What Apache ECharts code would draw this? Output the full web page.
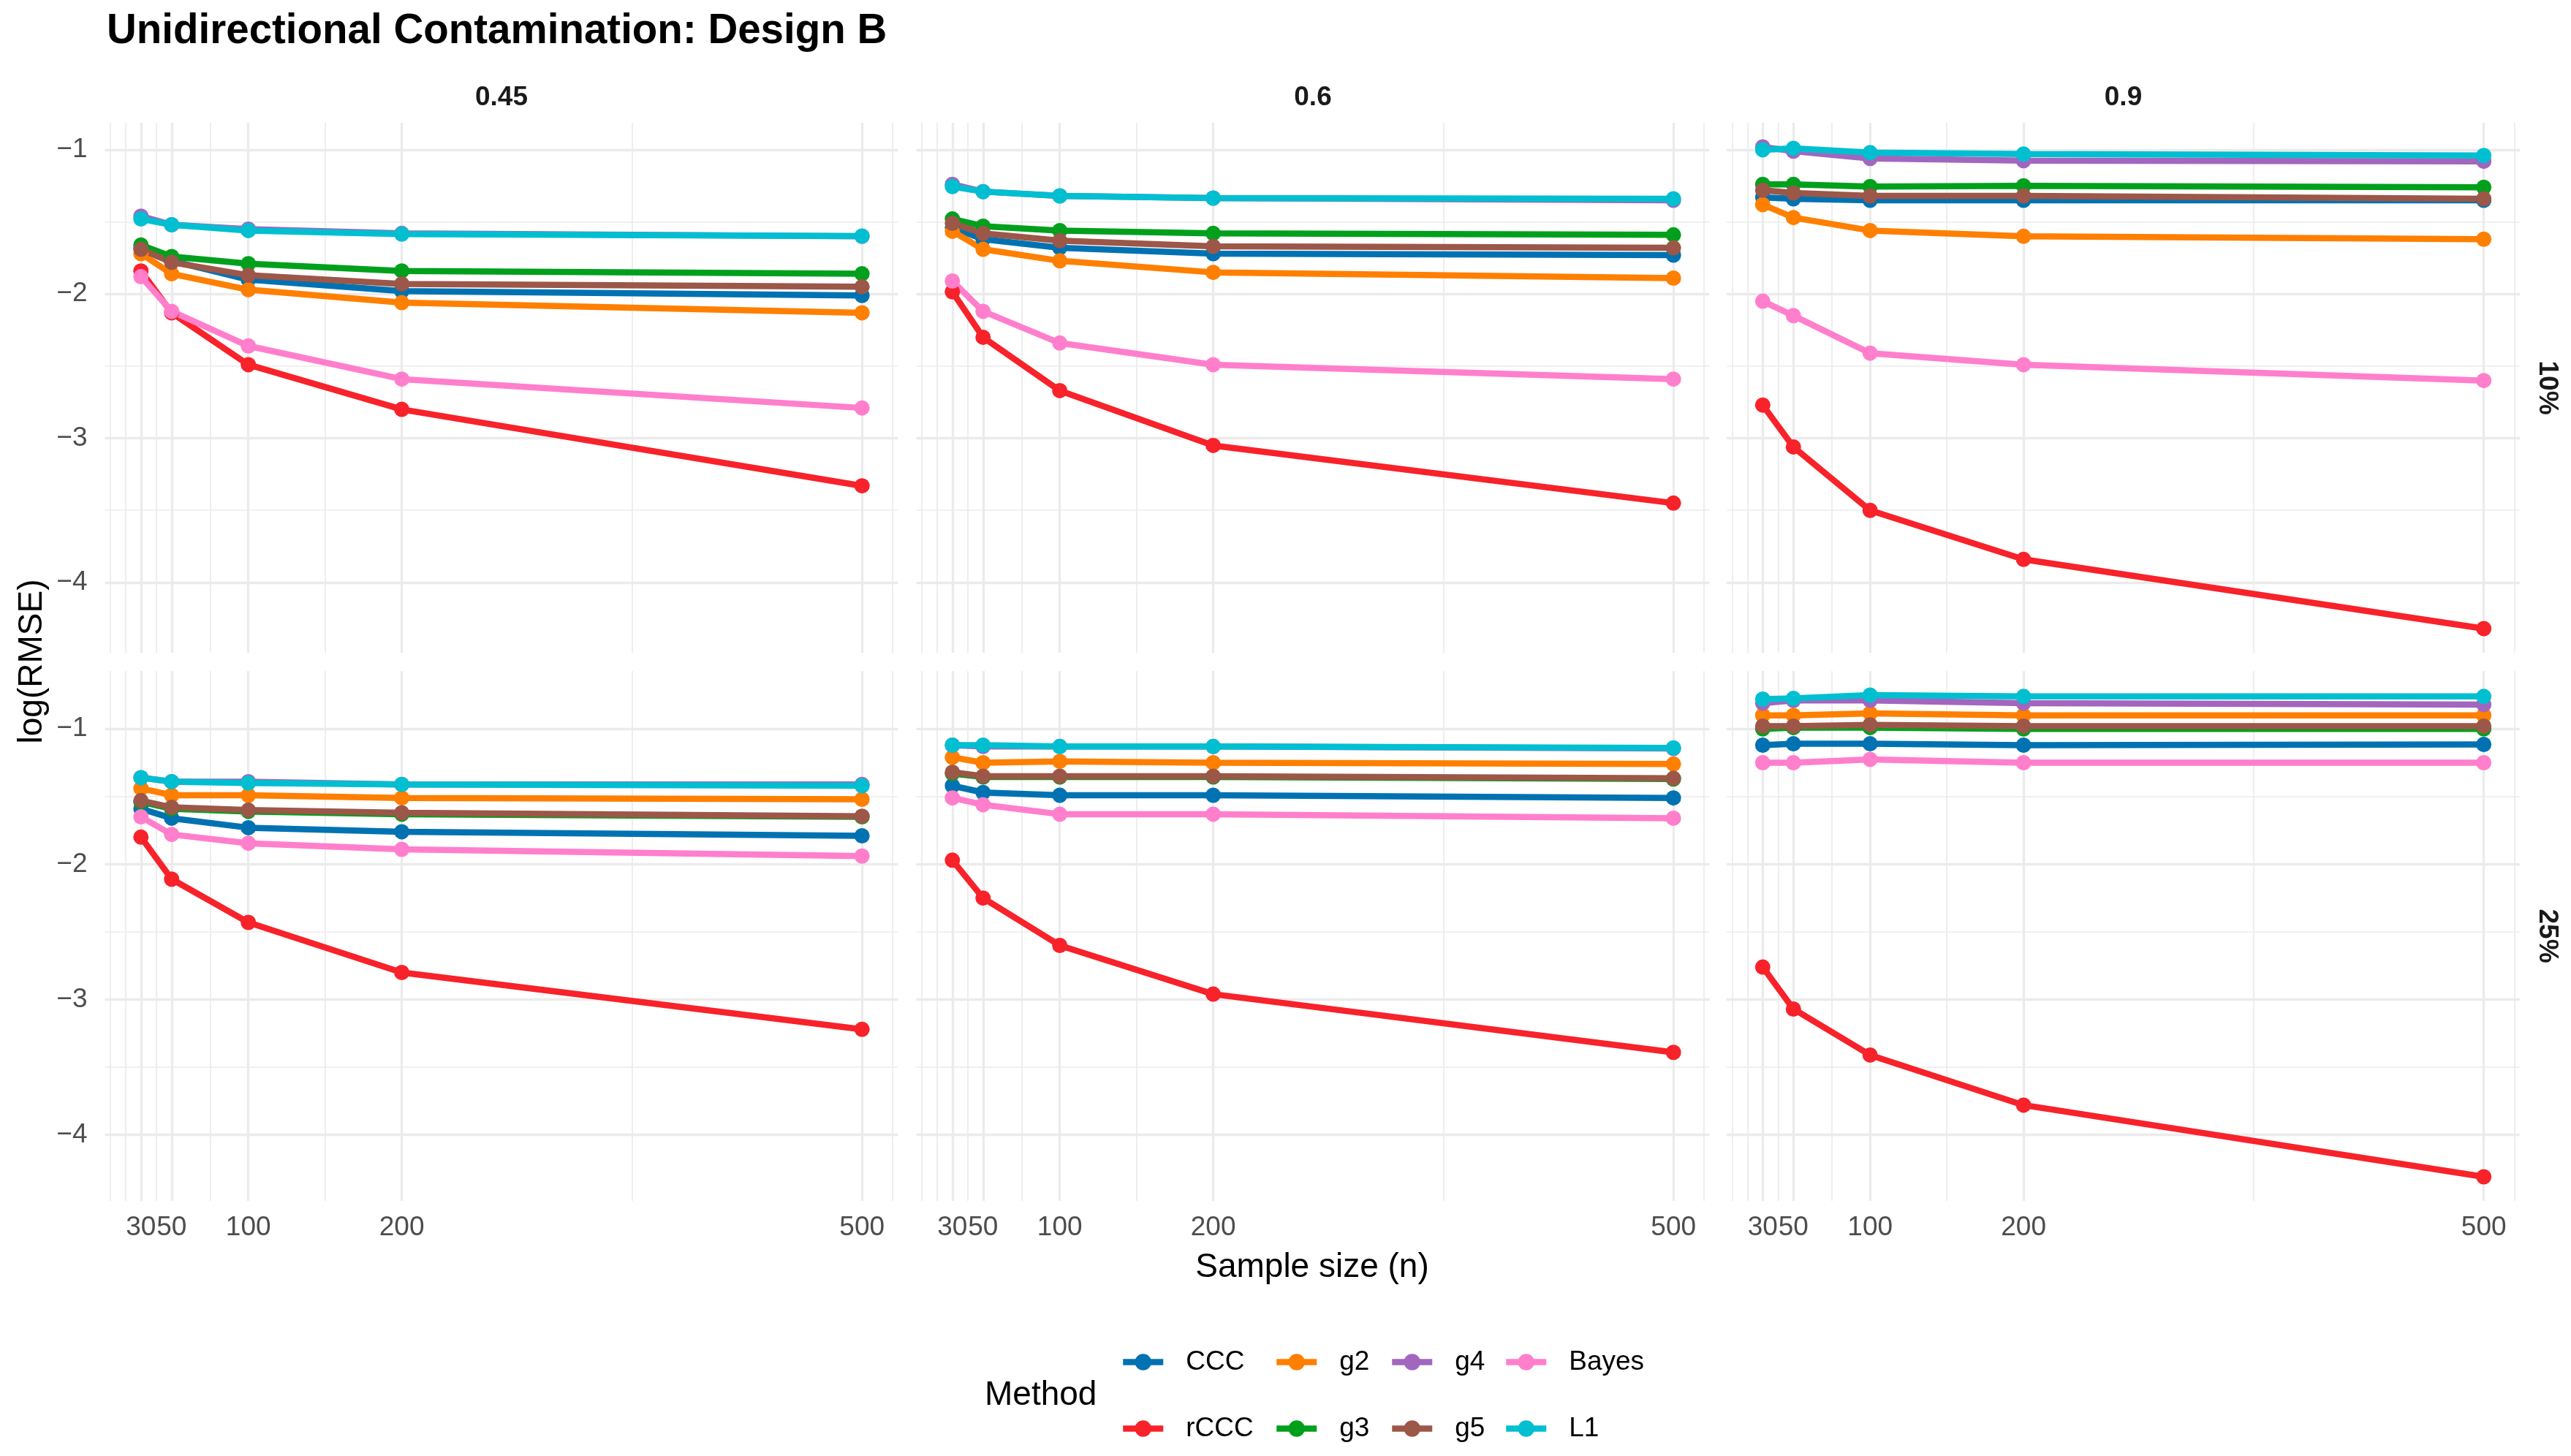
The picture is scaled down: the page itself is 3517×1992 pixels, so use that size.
<!DOCTYPE html>
<html><head><meta charset="utf-8">
<script src="https://cdn.jsdelivr.net/npm/echarts@6/dist/echarts.min.js"></script>
<style>html,body{margin:0;padding:0;background:#fff}#c{width:3517px;height:1992px}</style>
</head><body><div id="c"></div>
<script>
// ---------------- data ----------------
const sampleSizes = [30, 50, 100, 200, 500];
const methods = ['CCC', 'rCCC', 'g2', 'g3', 'g4', 'g5', 'Bayes', 'L1'];
const rhoLabels = ['0.45', '0.6', '0.9'];
const contamLabels = ['10%', '25%'];
const xBreaks = [30, 50, 100, 200, 500];
const xMinorBreaks = [10, 20, 40, 75, 150, 350, 520];
const yBreaks = [-1, -2, -3, -4];
const yMinorBreaks = [-0.5, -1.5, -2.5, -3.5, -4.5];

// log(RMSE) per panel; rows follow `methods` order, columns follow `sampleSizes`
const c10_r045 = [
  [-1.68, -1.77, -1.90, -1.98, -2.01],
  [-1.84, -2.13, -2.49, -2.80, -3.33],
  [-1.72, -1.86, -1.97, -2.06, -2.13],
  [-1.66, -1.74, -1.79, -1.84, -1.86],
  [-1.46, -1.52, -1.55, -1.58, -1.60],
  [-1.69, -1.78, -1.87, -1.93, -1.95],
  [-1.88, -2.12, -2.36, -2.59, -2.79],
  [-1.48, -1.52, -1.56, -1.585, -1.598]
];
const c10_r06 = [
  [-1.54, -1.62, -1.68, -1.72, -1.73],
  [-1.985, -2.30, -2.67, -3.05, -3.45],
  [-1.565, -1.69, -1.77, -1.85, -1.89],
  [-1.48, -1.53, -1.56, -1.58, -1.59],
  [-1.24, -1.29, -1.32, -1.335, -1.35],
  [-1.51, -1.58, -1.63, -1.67, -1.68],
  [-1.91, -2.12, -2.34, -2.49, -2.59],
  [-1.255, -1.29, -1.32, -1.335, -1.34]
];
const c10_r09 = [
  [-1.33, -1.34, -1.35, -1.35, -1.35],
  [-2.77, -3.06, -3.50, -3.84, -4.32],
  [-1.38, -1.47, -1.56, -1.60, -1.62],
  [-1.24, -1.24, -1.255, -1.25, -1.26],
  [-0.98, -1.01, -1.06, -1.075, -1.08],
  [-1.28, -1.30, -1.32, -1.32, -1.34],
  [-2.05, -2.15, -2.41, -2.49, -2.60],
  [-1.00, -0.99, -1.02, -1.03, -1.04]
];
const c25_r045 = [
  [-1.59, -1.66, -1.73, -1.76, -1.79],
  [-1.80, -2.11, -2.43, -2.80, -3.22],
  [-1.44, -1.49, -1.49, -1.51, -1.52],
  [-1.54, -1.59, -1.61, -1.63, -1.65],
  [-1.36, -1.39, -1.39, -1.41, -1.41],
  [-1.53, -1.58, -1.60, -1.62, -1.645],
  [-1.65, -1.78, -1.845, -1.89, -1.94],
  [-1.36, -1.39, -1.40, -1.41, -1.42]
];
const c25_r06 = [
  [-1.42, -1.47, -1.49, -1.49, -1.51],
  [-1.97, -2.25, -2.60, -2.96, -3.39],
  [-1.21, -1.25, -1.24, -1.25, -1.26],
  [-1.33, -1.355, -1.355, -1.355, -1.37],
  [-1.12, -1.13, -1.13, -1.13, -1.145],
  [-1.32, -1.35, -1.35, -1.35, -1.365],
  [-1.51, -1.56, -1.63, -1.63, -1.66],
  [-1.12, -1.12, -1.13, -1.13, -1.14]
];
const c25_r09 = [
  [-1.12, -1.11, -1.11, -1.12, -1.115],
  [-2.76, -3.07, -3.41, -3.78, -4.31],
  [-0.90, -0.90, -0.885, -0.90, -0.90],
  [-1.00, -0.99, -0.99, -1.00, -1.00],
  [-0.81, -0.79, -0.79, -0.81, -0.82],
  [-0.98, -0.98, -0.97, -0.98, -0.98],
  [-1.25, -1.25, -1.225, -1.25, -1.25],
  [-0.78, -0.775, -0.75, -0.76, -0.76]
];
const panels = [[c10_r045, c10_r06, c10_r09], [c25_r045, c25_r06, c25_r09]];

// ---------------- styles ----------------
const methodColors = ['#0072B2', '#F8222A', '#FF7F00', '#00A01C', '#A266BF', '#9C5748', '#FF7FCC', '#00BFD1'];
const FONT = '"Liberation Sans", Arial, Helvetica, sans-serif';
const panelLeft = [143.5, 1253.5, 2362];
const panelTop = [168, 918];
const panelW = 1085, panelH = 725;
const minus = v => String(v).replace('-', '\u2212');

function expand(lo, hi) { const d = (hi - lo) * 0.05; return [lo - d, hi + d]; }
const xLim = expand(Math.min(...sampleSizes), Math.max(...sampleSizes));
const yLim = panels.map(row => {
  const all = row.flat(2);
  return expand(Math.min(...all), Math.max(...all));
});

const grids = [], xAxes = [], yAxes = [], series = [];
for (let r = 0; r < 2; r++) {
  for (let c = 0; c < 3; c++) {
    const gi = r * 3 + c;
    grids.push({ left: panelLeft[c], top: panelTop[r], width: panelW, height: panelH, containLabel: false });
    xAxes.push({
      gridIndex: gi, type: 'value', min: xLim[0], max: xLim[1],
      axisLine: { show: false }, axisTick: { show: false, customValues: xBreaks },
      axisLabel: { show: r === 1, customValues: xBreaks, fontSize: 37, color: '#4D4D4D', fontFamily: FONT, margin: 18 },
      splitLine: { show: true, lineStyle: { color: '#EBEBEB', width: 3.3 } }
    });
    xAxes.push({
      gridIndex: gi, type: 'value', min: xLim[0], max: xLim[1], position: 'bottom',
      axisLine: { show: false }, axisTick: { show: false, customValues: xMinorBreaks },
      axisLabel: { show: false, customValues: xMinorBreaks },
      splitLine: { show: true, lineStyle: { color: '#EBEBEB', width: 1.7 } }
    });
    yAxes.push({
      gridIndex: gi, type: 'value', min: yLim[r][0], max: yLim[r][1],
      axisLine: { show: false }, axisTick: { show: false, customValues: yBreaks },
      axisLabel: { show: c === 0, customValues: yBreaks, fontSize: 37, color: '#4D4D4D', fontFamily: FONT, margin: 24, formatter: minus },
      splitLine: { show: true, lineStyle: { color: '#EBEBEB', width: 3.3 } }
    });
    yAxes.push({
      gridIndex: gi, type: 'value', min: yLim[r][0], max: yLim[r][1], position: 'left',
      axisLine: { show: false }, axisTick: { show: false, customValues: yMinorBreaks },
      axisLabel: { show: false, customValues: yMinorBreaks },
      splitLine: { show: true, lineStyle: { color: '#EBEBEB', width: 1.7 } }
    });
    const pd = panels[r][c];
    methods.forEach((m, mi) => {
      series.push({
        name: m, type: 'line', xAxisIndex: gi * 2, yAxisIndex: gi * 2,
        data: sampleSizes.map((n, i) => [n, pd[mi][i]]),
        symbol: 'circle', symbolSize: 21, showSymbol: true,
        lineStyle: { width: 8.5, color: methodColors[mi] },
        itemStyle: { color: methodColors[mi] },
        emphasis: { disabled: true }, silent: true, z: 3
      });
    });
  }
}

// legend: ggplot fills 2 rows by column
const legendColLeft = [1532, 1742, 1900, 2056];
const legendRowCenter = [1864, 1955];
const legends = methods.map((m, mi) => {
  const col = Math.floor(mi / 2), row = mi % 2;
  return {
    data: [m], selectedMode: false, orient: 'vertical',
    left: legendColLeft[col], top: legendRowCenter[row] - 19,
    padding: 0, itemWidth: 55, itemHeight: 28,
    lineStyle: { width: 8.5 },
    textStyle: { fontSize: 37, color: '#000', fontFamily: FONT, padding: [0, 0, 0, 26] }
  };
});

const texts = [];
texts.push({ type: 'text', x: 146, y: 43, style: { text: 'Unidirectional Contamination: Design B', font: 'bold 56.5px ' + FONT, fill: '#000', align: 'left', verticalAlign: 'middle' } });
rhoLabels.forEach((t, c) => texts.push({ type: 'text', x: panelLeft[c] + panelW / 2, y: 134, style: { text: t, font: 'bold 37px ' + FONT, fill: '#1A1A1A', align: 'center', verticalAlign: 'middle' } }));
contamLabels.forEach((t, r) => texts.push({ type: 'text', x: 3484, y: panelTop[r] + panelH / 2, rotation: -Math.PI / 2, style: { text: t, font: 'bold 37px ' + FONT, fill: '#1A1A1A', align: 'center', verticalAlign: 'middle' } }));
texts.push({ type: 'text', x: 44, y: 905, rotation: Math.PI / 2, style: { text: 'log(RMSE)', font: '46px ' + FONT, fill: '#000', align: 'center', verticalAlign: 'middle' } });
texts.push({ type: 'text', x: 1795, y: 1734, style: { text: 'Sample size (n)', font: '46px ' + FONT, fill: '#000', align: 'center', verticalAlign: 'middle' } });
texts.push({ type: 'text', x: 1347, y: 1909, style: { text: 'Method', font: '46px ' + FONT, fill: '#000', align: 'left', verticalAlign: 'middle' } });

const chart = echarts.init(document.getElementById('c'), null, { renderer: 'canvas' });
chart.setOption({
  backgroundColor: '#fff', animation: false,
  grid: grids, xAxis: xAxes, yAxis: yAxes, series: series,
  legend: legends,
  graphic: texts
});
</script></body></html>
